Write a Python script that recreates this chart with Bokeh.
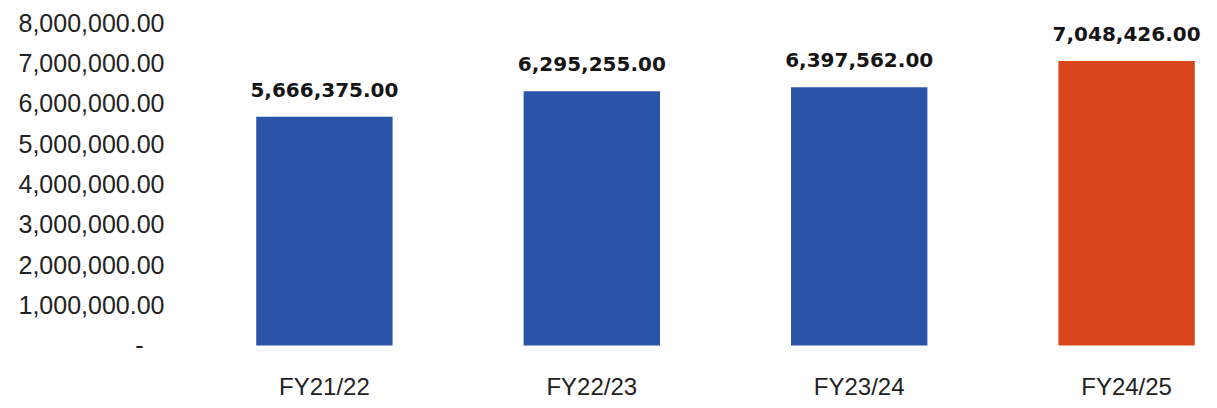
from bokeh.plotting import figure
from bokeh.models import Range1d, FixedTicker, NumeralTickFormatter, ColumnDataSource, LabelSet
from bokeh.core.properties import value
from bokeh.embed import file_html
from bokeh.resources import INLINE

categories = ["FY21/22", "FY22/23", "FY23/24", "FY24/25"]
values = [5666375.00, 6295255.00, 6397562.00, 7048426.00]
value_labels = ["5,666,375.00", "6,295,255.00", "6,397,562.00", "7,048,426.00"]
bar_colors = ["#2b53a7", "#2b53a7", "#2b53a7", "#da461c"]
y_ticks = [0, 1000000, 2000000, 3000000, 4000000, 5000000, 6000000, 7000000, 8000000]

xs = list(range(len(categories)))
src = ColumnDataSource(dict(x=xs, top=values, color=bar_colors, label=value_labels))

p = figure(width=1217, height=408, output_backend="svg", toolbar_location=None,
           x_range=Range1d(-0.527, 3.34), y_range=Range1d(-322000, 8545000),
           min_border_left=183, min_border_right=0, min_border_top=0, min_border_bottom=50)
p.outline_line_color = None
p.grid.grid_line_color = None
p.background_fill_color = "white"

p.vbar(x="x", top="top", bottom=0, width=0.51, fill_color="color", line_color=None, source=src)

labels = LabelSet(x="x", y="top", text="label", source=src, text_align="center",
                  text_baseline="bottom", y_offset=20, text_font=value("DejaVu Sans"),
                  text_font_style="bold", text_font_size="20px", text_color="#151515")
p.add_layout(labels)

ya = p.yaxis[0]
ya.ticker = FixedTicker(ticks=y_ticks)
ya.formatter = NumeralTickFormatter(format="0,0.00")
ya.major_label_overrides = {0: "-\u00a0\u00a0\u00a0"}
ya.axis_line_color = None
ya.major_tick_line_color = None
ya.minor_tick_line_color = None
ya.major_label_standoff = 13
ya.major_label_text_font = "Liberation Sans"
ya.major_label_text_font_size = "25px"
ya.major_label_text_color = "#222222"

xa = p.xaxis[0]
xa.ticker = FixedTicker(ticks=xs)
xa.major_label_overrides = {i: c for i, c in enumerate(categories)}
xa.axis_line_color = None
xa.major_tick_line_color = None
xa.minor_tick_line_color = None
xa.major_label_standoff = 8
xa.major_label_text_font = "Liberation Sans"
xa.major_label_text_font_size = "24px"
xa.major_label_text_color = "#222222"

open("out.html", "w").write(file_html(p, INLINE))
